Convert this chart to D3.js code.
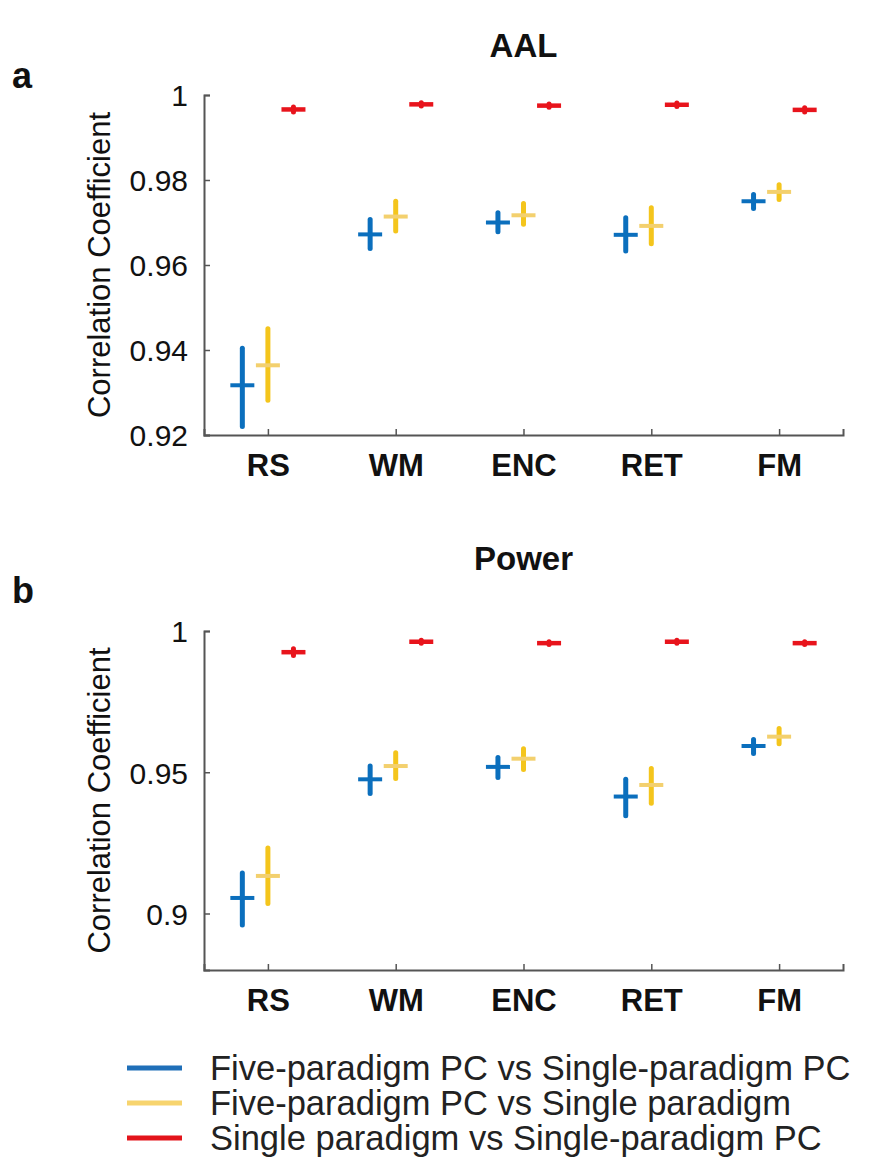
<!DOCTYPE html>
<html>
<head>
<meta charset="utf-8">
<script src="https://cdn.jsdelivr.net/npm/d3@7"></script>
<style>
  body { margin: 0; background: #fff; }
  text { font-family: "Liberation Sans", Arial, Helvetica, sans-serif; fill: #111; }
</style>
</head>
<body>
<div id="chart"></div>
<script>
// categories and series (each entry: [low, centre, high])
var categories = ["RS", "WM", "ENC", "RET", "FM"];
var seriesNames = [
  "Five-paradigm PC vs Single-paradigm PC",
  "Five-paradigm PC vs Single paradigm",
  "Single paradigm vs Single-paradigm PC"
];
var seriesColors = ["#0b6fbd", "#f4c51c", "#e8141c"];
var seriesMidColors = ["#0b6fbd", "#f3d06e", "#e8141c"];
var seriesOffsets = [-0.2, 0, 0.2];

// panel a : AAL
var aalFiveVsSinglePC = [[0.9220, 0.9317, 0.9404], [0.9639, 0.9672, 0.9707], [0.9678, 0.9700, 0.9723], [0.9633, 0.9671, 0.9711], [0.9733, 0.9750, 0.9766]];
var aalFiveVsSingle   = [[0.9282, 0.9364, 0.9450], [0.9680, 0.9714, 0.9750], [0.9696, 0.9717, 0.9745], [0.9650, 0.9692, 0.9735], [0.9754, 0.9772, 0.9789]];
var aalSingleVsPC     = [[0.9960, 0.9966, 0.9972], [0.9974, 0.9978, 0.9982], [0.9971, 0.9975, 0.9979], [0.9973, 0.9977, 0.9981], [0.9960, 0.9965, 0.9970]];
var aalTicks = [0.92, 0.94, 0.96, 0.98, 1];

// panel b : Power
var powFiveVsSinglePC = [[0.8959, 0.9055, 0.9143], [0.9425, 0.9475, 0.9522], [0.9481, 0.9519, 0.9552], [0.9346, 0.9414, 0.9475], [0.9566, 0.9593, 0.9616]];
var powFiveVsSingle   = [[0.9035, 0.9133, 0.9232], [0.9478, 0.9522, 0.9569], [0.9510, 0.9548, 0.9583], [0.9390, 0.9455, 0.9513], [0.9601, 0.9626, 0.9655]];
var powSingleVsPC     = [[0.9913, 0.9925, 0.9937], [0.9957, 0.9962, 0.9967], [0.9952, 0.9957, 0.9962], [0.9957, 0.9962, 0.9967], [0.9952, 0.9957, 0.9962]];
var powTicks = [0.9, 0.95, 1];

var width = 877, height = 1167;

var svg = d3.select("#chart").append("svg")
  .attr("width", width)
  .attr("height", height);

function drawPanel(opts) {
  var left = 204, right = 843;

  var x = d3.scaleLinear().domain([0.5, categories.length + 0.5]).range([left, right]);
  var y = d3.scaleLinear().domain(opts.domain).range([opts.bottom, opts.top]);

  var g = svg.append("g");

  // title and panel letter
  g.append("text")
    .attr("x", (left + right) / 2)
    .attr("y", opts.titleY)
    .attr("text-anchor", "middle")
    .style("font-weight", "bold")
    .style("font-size", "33px")
    .text(opts.title);

  g.append("text")
    .attr("x", 12)
    .attr("y", opts.letterY)
    .style("font-weight", "bold")
    .style("font-size", "36px")
    .text(opts.letter);

  // y axis
  var yAxis = g.append("g")
    .attr("transform", "translate(" + left + ",0)")
    .call(d3.axisLeft(y).tickValues(opts.ticks).tickSize(-6).tickPadding(16)
      .tickFormat(function(d) { return String(d); }));
  yAxis.selectAll("text").style("font-size", "30px").attr("dy", "0.36em");

  // x axis
  var xAxis = g.append("g")
    .attr("transform", "translate(0," + opts.bottom + ")")
    .call(d3.axisBottom(x).tickValues(d3.range(1, categories.length + 1)).tickSize(-6).tickPadding(19)
      .tickFormat(function(d) { return categories[d - 1]; }));
  xAxis.selectAll("text").style("font-size", "31px").style("font-weight", "bold").attr("dy", "0.72em");

  g.selectAll(".domain").attr("stroke", "#555").attr("stroke-width", 2);
  g.selectAll(".tick line").attr("stroke", "#555").attr("stroke-width", 1.5);

  // y label
  g.append("text")
    .attr("transform", "translate(110," + ((opts.top + opts.bottom) / 2) + ") rotate(-90)")
    .attr("text-anchor", "middle")
    .style("font-size", "31px")
    .text("Correlation Coefficient");

  // markers
  opts.series.forEach(function(data, s) {
    var sg = g.append("g");
    sg.selectAll("line.v")
      .data(data)
      .enter()
      .append("line")
      .attr("class", "v")
      .attr("x1", function(d, i) { return x(i + 1 + seriesOffsets[s]); })
      .attr("x2", function(d, i) { return x(i + 1 + seriesOffsets[s]); })
      .attr("y1", function(d) { return y(d[0]); })
      .attr("y2", function(d) { return y(d[2]); })
      .attr("stroke", seriesColors[s])
      .attr("stroke-width", 5)
      .attr("stroke-linecap", "round");
    sg.selectAll("line.h")
      .data(data)
      .enter()
      .append("line")
      .attr("class", "h")
      .attr("x1", function(d, i) { return x(i + 1 + seriesOffsets[s]) - 12; })
      .attr("x2", function(d, i) { return x(i + 1 + seriesOffsets[s]) + 12; })
      .attr("y1", function(d) { return y(d[1]); })
      .attr("y2", function(d) { return y(d[1]); })
      .attr("stroke", seriesMidColors[s])
      .attr("stroke-width", s == 2 ? 4.5 : 4);
  });
}

drawPanel({
  title: "AAL", letter: "a",
  titleY: 57, letterY: 88,
  top: 95, bottom: 435,
  domain: [0.92, 1], ticks: aalTicks,
  series: [aalFiveVsSinglePC, aalFiveVsSingle, aalSingleVsPC]
});

drawPanel({
  title: "Power", letter: "b",
  titleY: 570, letterY: 603,
  top: 631, bottom: 970,
  domain: [0.88, 1], ticks: powTicks,
  series: [powFiveVsSinglePC, powFiveVsSingle, powSingleVsPC]
});

// legend
var legend = svg.append("g").attr("class", "legend");
var rowY = d3.scaleLinear().domain([0, 2]).range([1068, 1138]);
var legendLineColors = ["#1f6fb8", "#f7d46e", "#e3141b"];

legend.selectAll("line")
  .data(seriesNames)
  .enter()
  .append("line")
  .attr("x1", 127).attr("x2", 182)
  .attr("y1", function(d, i) { return rowY(i); })
  .attr("y2", function(d, i) { return rowY(i); })
  .attr("stroke", function(d, i) { return legendLineColors[i]; })
  .attr("stroke-width", 5);

legend.selectAll("text")
  .data(seriesNames)
  .enter()
  .append("text")
  .attr("x", 210)
  .attr("y", function(d, i) { return rowY(i); })
  .attr("dy", "0.36em")
  .style("font-size", "34.5px")
  .style("fill", "#222")
  .text(function(d) { return d; });
</script>
</body>
</html>
